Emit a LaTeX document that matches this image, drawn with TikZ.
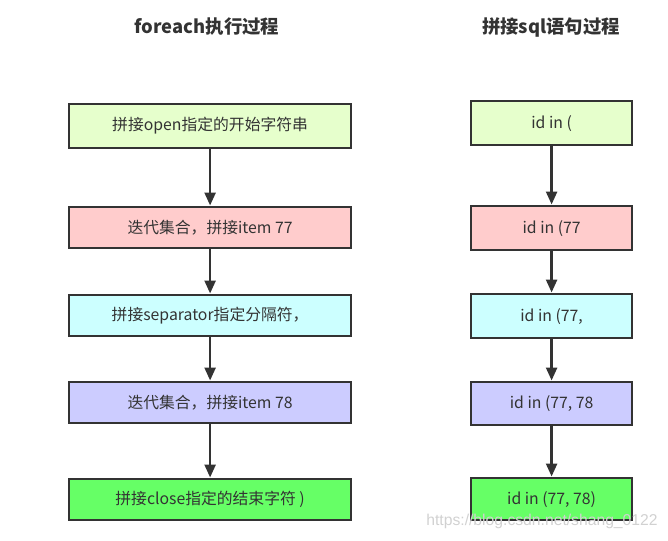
\documentclass[tikz,border=0pt]{standalone}
\usepackage{fontspec}
\setmainfont{Noto Sans CJK SC}
\usetikzlibrary{arrows.meta}
\definecolor{edge}{HTML}{333333}
\definecolor{txt}{HTML}{333333}
\definecolor{cA}{HTML}{E6FFCC}
\definecolor{cB}{HTML}{FFCCCC}
\definecolor{cC}{HTML}{CCFFFF}
\definecolor{cD}{HTML}{CCCCFF}
\definecolor{cE}{HTML}{66FF66}
\tikzset{
  box/.style={draw=edge, line width=2.2pt, text=txt, font=\fontsize{15.8}{18}\selectfont, inner sep=0pt, anchor=north west},
  conn/.style={draw=edge, line width=2.5pt, -{Triangle[length=13pt,width=11pt]}, shorten >=0.5pt},
  ttl/.style={text=txt, font=\fontsize{18.4}{21}\selectfont\bfseries}
}
\begin{document}
\begin{tikzpicture}[x=1pt,y=-1pt]
\useasboundingbox (0,0) rectangle (668,540);
% titles
\node[ttl] (t1) at (207,27) {foreach执行过程};
\node[ttl] (t2) at (551,27) {拼接sql语句过程};
% left column
\node[box, fill=cA, minimum width=282pt, minimum height=44pt] (l1) at (68,103) {拼接open指定的开始字符串};
\node[box, fill=cB, minimum width=282pt, minimum height=41pt] (l2) at (68,206) {迭代集合，拼接item 77};
\node[box, fill=cC, minimum width=282pt, minimum height=41pt] (l3) at (68,294) {拼接separator指定分隔符，};
\node[box, fill=cD, minimum width=282pt, minimum height=41pt] (l4) at (68,381) {迭代集合，拼接item 78};
\node[box, fill=cE, minimum width=282pt, minimum height=41pt] (l5) at (68,478) {拼接close指定的结束字符 )};
% right column
\node[box, fill=cA, minimum width=161pt, minimum height=44pt] (r1) at (470,100) {id in (};
\node[box, fill=cB, minimum width=161pt, minimum height=44pt] (r2) at (470,205) {id in (77};
\node[box, fill=cC, minimum width=161pt, minimum height=44pt] (r3) at (470,293) {id in (77,};
\node[box, fill=cD, minimum width=161pt, minimum height=43pt] (r4) at (470,381) {id in (77, 78};
\node[box, fill=cE, minimum width=161pt, minimum height=42pt] (r5) at (470,477) {id in (77, 78)};
% connectors
\draw[conn] (l1) -- (l2);
\draw[conn] (l2) -- (l3);
\draw[conn] (l3) -- (l4);
\draw[conn] (l4) -- (l5);
\draw[conn] (r1) -- (r2);
\draw[conn] (r2) -- (r3);
\draw[conn] (r3) -- (r4);
\draw[conn] (r4) -- (r5);
% watermark
\node[text=black!18, font=\fontsize{15.7}{17}\selectfont\fontspec{Liberation Sans}] (wm) at (542,521) {https://blog.csdn.net/shang\_0122};
\end{tikzpicture}
\end{document}
